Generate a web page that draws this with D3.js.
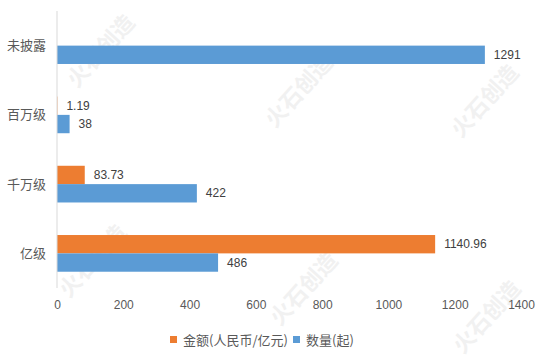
<!DOCTYPE html>
<html><head><meta charset="utf-8">
<script src="https://cdn.jsdelivr.net/npm/d3@7"></script>
<style>
body{margin:0;background:#fff;}
svg{display:block;}
</style></head>
<body>
<svg id="chart" width="543" height="361"></svg>
<script>
const categories = ["未披露", "百万级", "千万级", "亿级"];
const seriesNames = ["金额(人民币/亿元)", "数量(起)"];
const amountValues = [null, 1.19, 83.73, 1140.96];
const countValues = [1291, 38, 422, 486];
const amountLabels = ["", "1.19", "83.73", "1140.96"];
const countLabels = ["1291", "38", "422", "486"];
const xTicks = [0, 200, 400, 600, 800, 1000, 1200, 1400];
const colors = ["#ED7D31", "#5B9BD5"];

const svg = d3.select("#chart");
const W = 543, H = 361;
const margin = {left: 57, right: 22, top: 11, bottom: 73};
const fontLat = "'Liberation Sans', Arial, 'Noto Sans CJK SC', sans-serif";
const fontCJK = "'Noto Sans CJK SC', 'Liberation Sans', sans-serif";

// watermarks
const wm = [[102,52],[300,92],[486,102],[94,262],[305,290],[488,318]];
svg.append("g").selectAll("text").data(wm).join("text")
  .attr("transform", d => `translate(${d[0]},${d[1]}) rotate(-48)`)
  .attr("text-anchor", "middle").attr("dominant-baseline", "middle")
  .attr("font-family", fontCJK).attr("font-weight", "bold")
  .attr("font-size", 22).attr("fill", "#f1f1f1")
  .text("火石创造");

const x = d3.scaleLinear().domain([0, 1400]).range([margin.left, 521]);
const y = d3.scaleBand().domain(categories).range([margin.top, H - margin.bottom])
  .paddingInner(0.47).paddingOuter(0.235);
const ySub = d3.scaleBand().domain([0, 1]).range([0, y.bandwidth()]);

const data = categories.map((c, i) => ({cat: c, vals: [
  {s: 0, v: amountValues[i], label: amountLabels[i]},
  {s: 1, v: countValues[i], label: countLabels[i]}
]}));

const g = svg.append("g");
const groups = g.selectAll("g.cat").data(data).join("g")
  .attr("transform", d => `translate(0,${y(d.cat)})`);

const items = groups.selectAll("g.bar").data(d => d.vals.filter(v => v.v != null)).join("g");
items.append("rect")
  .attr("x", x(0))
  .attr("y", d => ySub(d.s))
  .attr("width", d => x(d.v) - x(0))
  .attr("height", ySub.bandwidth())
  .attr("fill", d => colors[d.s]);
items.append("text")
  .attr("x", d => x(d.v) + 9)
  .attr("y", d => ySub(d.s) + ySub.bandwidth() / 2)
  .attr("dy", "0.35em")
  .attr("font-family", fontLat).attr("font-size", 12).attr("fill", "#404040")
  .text(d => d.label);

// y axis line
svg.append("line").attr("x1", x(0)).attr("x2", x(0))
  .attr("y1", margin.top).attr("y2", H - margin.bottom)
  .attr("stroke", "#D9D9D9").attr("stroke-width", 1);

// category labels
svg.append("g").selectAll("text").data(categories).join("text")
  .attr("x", 46).attr("y", d => y(d) + y.bandwidth() / 2)
  .attr("dy", "0.35em").attr("text-anchor", "end")
  .attr("font-family", fontCJK).attr("font-size", 13).attr("fill", "#595959")
  .text(d => d);

// x axis
const xAxis = svg.append("g").attr("transform", `translate(0,${H - margin.bottom})`)
  .call(d3.axisBottom(x).tickValues(xTicks).tickFormat(d3.format("d")).tickSize(0).tickPadding(12));
xAxis.select(".domain").remove();
xAxis.selectAll("text").attr("font-family", fontLat).attr("font-size", 12).attr("fill", "#595959");

// legend
const leg = svg.append("g");
const legItems = [{x: 170, name: seriesNames[0], c: colors[0]}, {x: 293, name: seriesNames[1], c: colors[1]}];
legItems.forEach(l => {
  leg.append("rect").attr("x", l.x).attr("y", 336).attr("width", 7).attr("height", 7).attr("fill", l.c);
  leg.append("text").attr("x", l.x + 13).attr("y", 340).attr("dy", "0.35em")
    .attr("font-family", fontCJK).attr("font-size", 13).attr("fill", "#595959").text(l.name);
});
</script>
</body></html>
